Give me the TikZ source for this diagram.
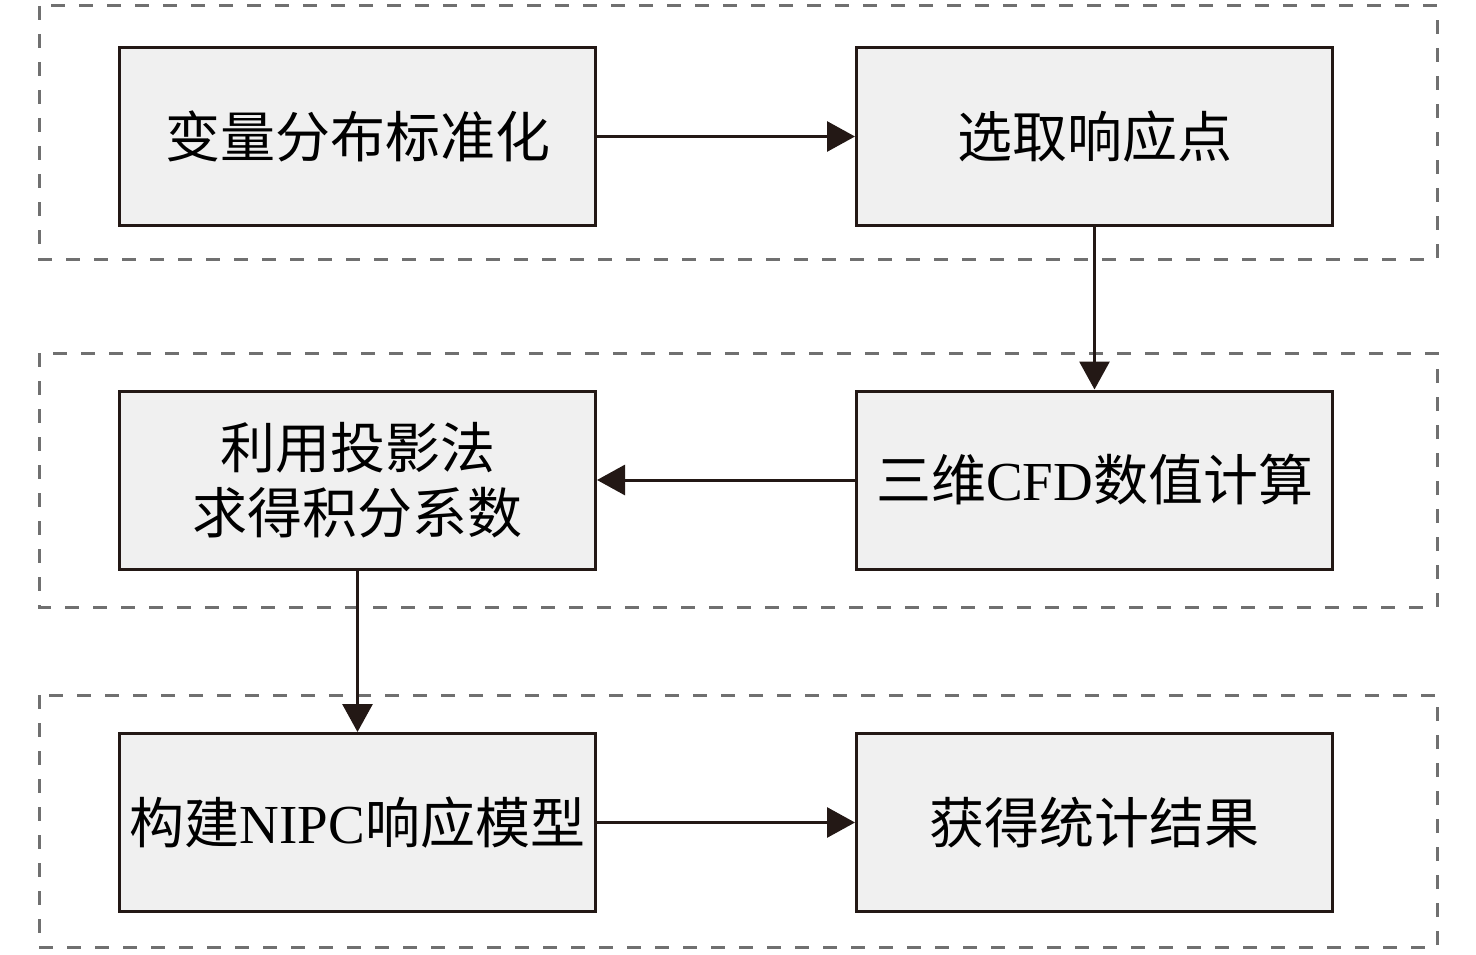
\documentclass[tikz,border=0pt]{standalone}
\usepackage{fontspec}
\setmainfont{Liberation Serif}
\newfontfamily\cjk{Noto Sans CJK SC}
\usetikzlibrary{arrows.meta}
\definecolor{ink}{HTML}{231815}
\definecolor{boxfill}{HTML}{F0F0F0}
\definecolor{dashgray}{HTML}{707070}
\begin{document}
\begin{tikzpicture}[x=1pt,y=-1pt,
  stepbox/.style={draw=ink, fill=boxfill, line width=3pt, minimum width=476pt, minimum height=178pt, inner sep=0pt, align=center, font=\fontsize{55}{65}\selectfont},
  grp/.style={draw=dashgray, line width=3pt, dash pattern=on 14pt off 14pt},
  conn/.style={draw=ink, line width=3pt, -{Triangle[length=28pt,width=30pt]}}]
\useasboundingbox (0,0) rectangle (1476,955);
\draw[grp] (39,6) rectangle (1437,259);
\draw[grp] (39,353) rectangle (1437,607);
\draw[grp] (39,695) rectangle (1437,947);
\node[stepbox] (a) at (357.5,136.5) {\cjk 变量分布标准化};
\node[stepbox] (b) at (1094.5,136.5) {\cjk 选取响应点};
\node[stepbox] (d) at (357.5,480) {\cjk 利用投影法\\\cjk 求得积分系数};
\node[stepbox] (c) at (1094.5,480) {{\cjk 三维}CFD{\cjk 数值计算}};
\node[stepbox] (e) at (357.5,822.5) {{\cjk 构建}NIPC{\cjk 响应模型}};
\node[stepbox] (f) at (1094.5,822.5) {\cjk 获得统计结果};
\draw[conn] (a) -- (b);
\draw[conn] (b) -- (c);
\draw[conn] (c) -- (d);
\draw[conn] (d) -- (e);
\draw[conn] (e) -- (f);
\end{tikzpicture}
\end{document}
